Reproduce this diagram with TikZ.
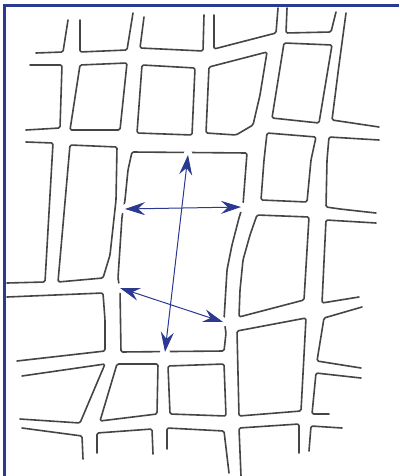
\documentclass[tikz,border=0pt]{standalone}
\usetikzlibrary{arrows.meta}
\definecolor{ink}{HTML}{454545}
\definecolor{navy}{HTML}{2B3990}
\begin{document}
\begin{tikzpicture}[x=1pt,y=-1pt,
  net/.style={draw=ink, line width=1.6pt, line join=round, line cap=round, rounded corners=1.5pt},
  dimarrow/.style={draw=navy, line width=1pt,
    {Stealth[length=20pt,width=13pt,inset=7pt]}-{Stealth[length=20pt,width=13pt,inset=7pt]}},
  gap/.style={fill=white, draw=none},
  frameline/.style={draw=navy, line width=3pt}]
\useasboundingbox (0,0) rectangle (399,476);
\fill[white] (0,0) rectangle (399,476);
\draw[frameline] (4,476) -- (4,6) -- (399,6);

% row 0 (top, open)
\draw[net] (36,53) -- (63,52) -- (68,20);
\draw[net] (80,20) -- (80,52) -- (127,50) -- (133,13);
\draw[net] (144,17) -- (140,48) -- (203,51) -- (204,15);
\draw[net] (214,15) -- (214,49) -- (276,33) -- (278,8);
\draw[net] (287,8) -- (286,33) -- (331,32) -- (336,12);
\draw[net] (346,13) -- (339,65) -- (332,120) -- (379,127);

% row 1
\draw[net] (30,65) -- (62,65) -- (60,128) -- (26,130);
\draw[net] (80,65) -- (127,63) -- (120,130) -- (70,130) -- cycle;
\draw[net] (142,65) -- (195,68) -- (192,135) -- (137,133) -- cycle;
\draw[net] (209,67) -- (267,52) -- (260,95) -- (253,125) -- (236,135) -- (206,133) -- cycle;
\draw[net] (284,43) -- (332,45) -- (319,123) -- (272,118) -- cycle;
\draw[net] (379,140) -- (329,137) -- (327,160) -- (326,207) -- (340,209) -- (376,213);

% row 2
\draw[net] (26,142) -- (53,143) -- (45,282) -- (7,283);
\draw[net] (70,145) -- (117,147) -- (116,200) -- (110,255) -- (103,278) -- (58,282) -- cycle;
\draw[net] (132,152) -- (247,153) -- (243,205) -- (239,218) -- (232,245) -- (227,270)
  -- (224,320) -- (226,333) -- (224,351) -- (121,352) -- (120,290) -- (118,278)
  -- (122,217) -- (125,200) -- (128,170) -- cycle;
\draw[net] (267,133) -- (316,137) -- (311,160) -- (307,202) -- (261,200) -- (264,160) -- cycle;
\draw[net] (257,215) -- (309,217) -- (304,300) -- (239,317) -- (240,290) -- (243,260) -- (250,235) -- cycle;
\draw[net] (376,223) -- (326,220) -- (322,303) -- (359,297);

% row 3
\draw[net] (7,297) -- (103,293) -- (105,320) -- (105,351) -- (17,361);
\draw[net] (237,331) -- (306,318) -- (301,411) -- (239,416) -- cycle;
\draw[net] (362,307) -- (324,318) -- (317,361) -- (361,368);

% row 4
\draw[net] (22,376) -- (105,364) -- (80,423) -- (20,419);
\draw[net] (117,364) -- (158,364) -- (157,414) -- (100,421) -- cycle;
\draw[net] (168,366) -- (224,364) -- (226,416) -- (170,414) -- cycle;
\draw[net] (361,378) -- (316,373) -- (312,414) -- (329,414);

% row 5 (bottom, open)
\draw[net] (22,428) -- (82,436) -- (83,459);
\draw[net] (97,453) -- (97,433) -- (152,429) -- (153,454);
\draw[net] (167,449) -- (167,428) -- (224,431) -- (229,473);
\draw[net] (241,476) -- (239,428) -- (299,424) -- (299,453);
\draw[net] (309,451) -- (311,426) -- (342,428);

% arrows
\coordinate (hl) at (125,209);
\coordinate (hr) at (241,207);
\coordinate (vt) at (188,155);
\coordinate (vb) at (165,352);
\coordinate (dl) at (120,288);
\coordinate (dr) at (223,322);
\foreach \p in {hl,hr,vt,vb,dl,dr} \fill[gap] (\p) circle (5pt);
\draw[dimarrow] (hl) -- (hr);
\draw[dimarrow] (vt) -- (vb);
\draw[dimarrow] (dl) -- (dr);
\end{tikzpicture}
\end{document}
